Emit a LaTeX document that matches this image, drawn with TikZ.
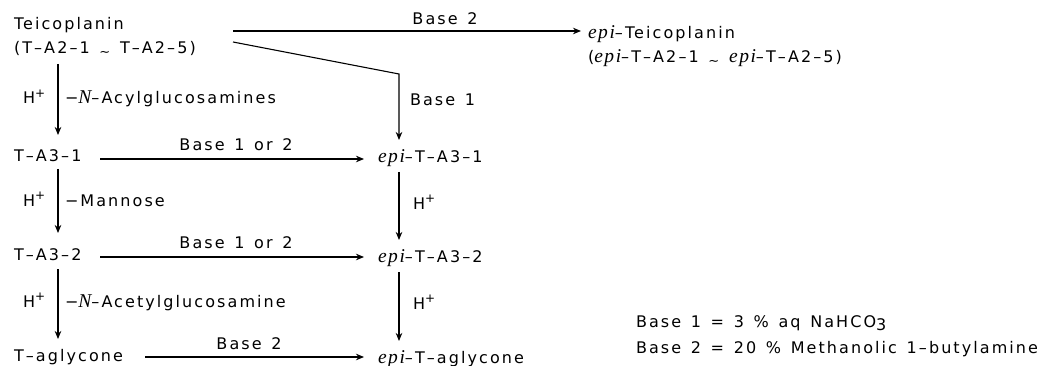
\documentclass[tikz,border=0pt]{standalone}
\usepackage{fontspec}
\setmainfont{DejaVu Sans}[LetterSpace=13,WordSpace=1.35]
\newfontfamily\serifit{Liberation Serif}[LetterSpace=8,Scale=1.22]
\usetikzlibrary{arrows.meta}
\newcommand{\epi}{{\serifit\itshape epi}}
\newcommand{\NN}{{\serifit\itshape N}}
\newcommand{\tl}{\raisebox{-0.3ex}{\fontsize{13}{13}\selectfont\char"7E}}
\newcommand{\Hp}{H\raisebox{0.75ex}{\fontsize{12}{12}\selectfont +}}
\newcommand{\subthree}{\raisebox{-0.45ex}{3}}
\begin{document}
\begin{tikzpicture}[x=1pt,y=-1pt,
  every node/.style={font=\fontsize{16}{19}\selectfont},
  txt/.style={anchor=base west, inner sep=0pt, outer sep=0pt},
  lab/.style={anchor=base, inner sep=0pt, outer sep=0pt},
  arr/.style={-{Stealth[length=8pt,width=6.5pt,inset=2.5pt]}, line width=1.1pt}]
\useasboundingbox (0,0) rectangle (1040,366);
% compounds
\node[txt] (teic)   at (14,30)  {Teicoplanin};
\node[txt] (teicr)  at (14,54)  {(T–A2–1 \tl\ T–A2–5)};
\node[txt] (a31)    at (14,161) {T–A3–1};
\node[txt] (a32)    at (14,260) {T–A3–2};
\node[txt] (agl)    at (14,361) {T–aglycone};
\node[txt] (eteic)  at (588,39) {\epi–Teicoplanin};
\node[txt] (eteicr) at (588,63) {(\epi–T–A2–1 \tl\ \epi–T–A2–5)};
\node[txt] (ea31)   at (378,163) {\epi–T–A3–1};
\node[txt] (ea32)   at (378,262) {\epi–T–A3–2};
\node[txt] (eagl)   at (378,363) {\epi–T–aglycone};
% legend
\node[txt] (leg1) at (636,327) {Base 1 = 3 \% aq NaHCO\subthree};
\node[txt] (leg2) at (636,353) {Base 2 = 20 \% Methanolic 1–butylamine};
% connector end points
\coordinate (top0) at (233,31);  \coordinate (top1) at (581,31);
\coordinate (dg0)  at (233,42);  \coordinate (dgc)  at (399,74); \coordinate (dg1) at (399,140);
\coordinate (l1a) at (58,64);  \coordinate (l1b) at (58,135);
\coordinate (l2a) at (58,169); \coordinate (l2b) at (58,233);
\coordinate (l3a) at (58,269); \coordinate (l3b) at (58,339);
\coordinate (r1a) at (399,172); \coordinate (r1b) at (399,240);
\coordinate (r2a) at (399,272); \coordinate (r2b) at (399,341);
\coordinate (h1a) at (100,159); \coordinate (h1b) at (364,159);
\coordinate (h2a) at (100,257); \coordinate (h2b) at (364,257);
\coordinate (h3a) at (145,357); \coordinate (h3b) at (364,357);
% connectors
\draw[arr] (top0) -- (top1);
\draw[arr] (dg0) -- (dgc) -- (dg1);
\draw[arr] (l1a) -- (l1b);
\draw[arr] (l2a) -- (l2b);
\draw[arr] (l3a) -- (l3b);
\draw[arr] (r1a) -- (r1b);
\draw[arr] (r2a) -- (r2b);
\draw[arr] (h1a) -- (h1b);
\draw[arr] (h2a) -- (h2b);
\draw[arr] (h3a) -- (h3b);
% labels
\node[lab] (lb2top) at (445,25) {Base 2};
\node[txt] (lb1)    at (410,106) {Base 1};
\node[lab] (lb12a)  at (236,150) {Base 1 or 2};
\node[lab] (lb12b)  at (236,248) {Base 1 or 2};
\node[lab] (lb2bot) at (249,349) {Base 2};
\node[txt] (hp1) at (23,104) {\Hp};
\node[txt] (hp2) at (23,206) {\Hp};
\node[txt] (hp3) at (23,307) {\Hp};
\node[txt] (m1) at (65,104) {−\NN–Acylglucosamines};
\node[txt] (m2) at (65,206) {−Mannose};
\node[txt] (m3) at (65,307) {−\NN–Acetylglucosamine};
\node[txt] (hp4) at (413,209) {\Hp};
\node[txt] (hp5) at (413,309) {\Hp};
\end{tikzpicture}
\end{document}
